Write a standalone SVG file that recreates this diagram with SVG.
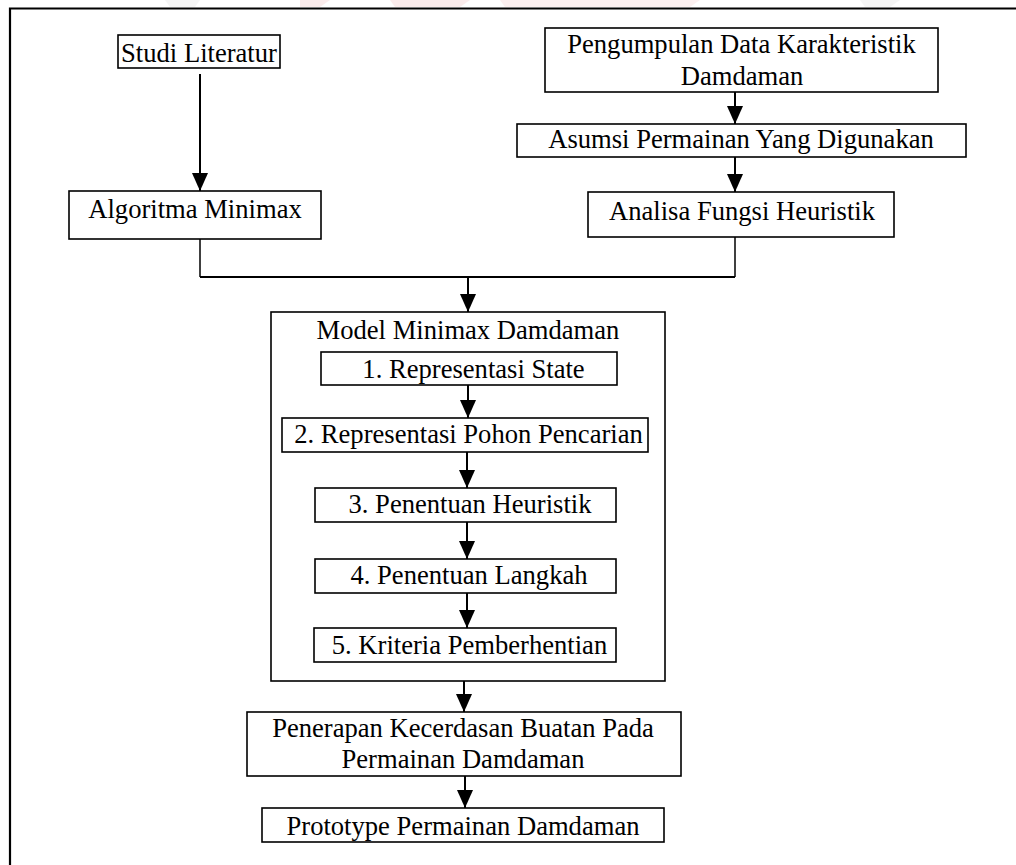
<svg xmlns="http://www.w3.org/2000/svg" width="1016" height="865" viewBox="0 0 1016 865">
<style>
.box{fill:#fff;stroke:#000;stroke-width:1.6}
.t{font-family:"Liberation Serif","Times New Roman",serif;font-size:26.6px;fill:#000;text-anchor:middle}
.ln{fill:none;stroke:#000;stroke-width:2}
.thin{fill:none;stroke:#000;stroke-width:1.5}
</style>
<defs>
<marker id="arr" viewBox="0 0 18 16" refX="18" refY="8" markerWidth="18" markerHeight="16" markerUnits="userSpaceOnUse" orient="auto">
<path d="M0,0 L18,8 L0,16 Z" fill="#000"/>
</marker>
</defs>
<rect width="1016" height="865" fill="#fff"/>
<g id="watermark" opacity="0.25">
<path d="M300,0 L330,0 L320,7 L300,7 Z" fill="#f2b8b8"/>
<path d="M390,0 L470,0 L460,7 L395,7 Z" fill="#f2b8b8"/>
<path d="M500,0 L700,0 L690,7 L505,7 Z" fill="#f4c4c4"/>
<path d="M165,0 L200,0 L195,7 L170,7 Z" fill="#d8d8d8"/>
<path d="M860,0 L900,0 L890,7 L865,7 Z" fill="#d8d8d8"/>
</g>
<path id="frame" d="M10,865 V8.5 H1016" fill="none" stroke="#000" stroke-width="2.2"/>
<g id="studi"><rect class="box" x="118" y="35" width="162" height="33"/><text class="t" x="199" y="62">Studi Literatur</text></g>
<g id="algoritma"><rect class="box" x="69" y="191" width="252" height="48"/><text class="t" x="195" y="218">Algoritma Minimax</text></g>
<g id="pengumpulan"><rect class="box" x="545" y="28" width="393" height="64"/><text class="t" x="741.5" y="53">Pengumpulan Data Karakteristik</text><text class="t" x="742" y="85">Damdaman</text></g>
<g id="asumsi"><rect class="box" x="517" y="124" width="449" height="33"/><text class="t" x="741" y="148">Asumsi Permainan Yang Digunakan</text></g>
<g id="analisa"><rect class="box" x="588" y="192" width="306" height="45"/><text class="t" x="742" y="220">Analisa Fungsi Heuristik</text></g>
<g id="model">
<rect class="box" x="271" y="312" width="394" height="369"/>
<text class="t" x="468" y="339">Model Minimax Damdaman</text>
</g>
<g id="state"><rect class="box" x="321" y="352" width="296" height="33"/><text class="t" x="473.5" y="378">1. Representasi State</text></g>
<g id="pohon"><rect class="box" x="282" y="418" width="366" height="34"/><text class="t" x="468.5" y="443">2. Representasi Pohon Pencarian</text></g>
<g id="heuristik"><rect class="box" x="315" y="488" width="301" height="34"/><text class="t" x="470" y="513">3. Penentuan Heuristik</text></g>
<g id="langkah"><rect class="box" x="315" y="559" width="301" height="34"/><text class="t" x="469" y="584">4. Penentuan Langkah</text></g>
<g id="kriteria"><rect class="box" x="314" y="628" width="302" height="34"/><text class="t" x="469.5" y="654">5. Kriteria Pemberhentian</text></g>
<g id="penerapan"><rect class="box" x="247" y="712" width="434" height="64"/><text class="t" x="463" y="737">Penerapan Kecerdasan Buatan Pada</text><text class="t" x="463" y="768">Permainan Damdaman</text></g>
<g id="prototype"><rect class="box" x="262" y="808" width="402" height="34"/><text class="t" x="463" y="835">Prototype Permainan Damdaman</text></g>
<g id="connectors">
<line class="ln" x1="200" y1="74" x2="200" y2="191" marker-end="url(#arr)"/>
<line class="ln" x1="735" y1="92" x2="735" y2="124" marker-end="url(#arr)"/>
<line class="ln" x1="735" y1="157" x2="735" y2="192" marker-end="url(#arr)"/>
<path class="thin" d="M200,239 V277"/>
<path class="thin" d="M735,237 V277"/>
<path class="ln" d="M200,277 H735"/>
<line class="ln" x1="468" y1="277" x2="468" y2="312" marker-end="url(#arr)"/>
<line class="ln" x1="468" y1="385" x2="468" y2="418" marker-end="url(#arr)"/>
<line class="ln" x1="467" y1="452" x2="467" y2="488" marker-end="url(#arr)"/>
<line class="ln" x1="467" y1="522" x2="467" y2="559" marker-end="url(#arr)"/>
<line class="ln" x1="467" y1="593" x2="467" y2="628" marker-end="url(#arr)"/>
<line class="ln" x1="464" y1="681" x2="464" y2="712" marker-end="url(#arr)"/>
<line class="ln" x1="465" y1="776" x2="465" y2="808" marker-end="url(#arr)"/>
</g>
</svg>
